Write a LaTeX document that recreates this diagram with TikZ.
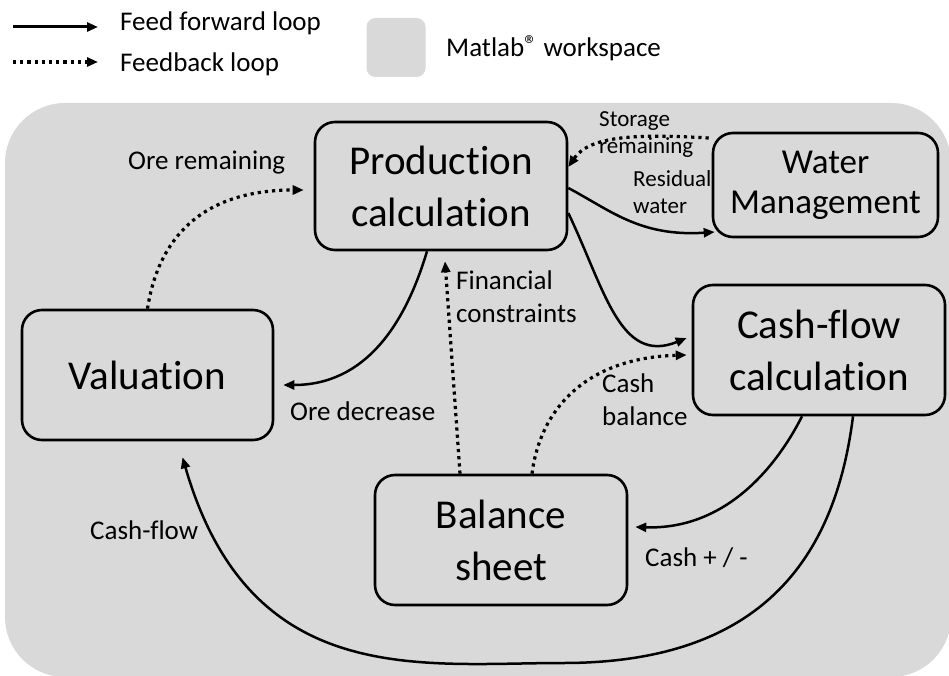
\documentclass[tikz,border=0pt]{standalone}
\usepackage{fontspec}
\setmainfont[Ligatures=NoCommon]{Carlito}
\usepackage{tikz}
\usetikzlibrary{arrows.meta}
\definecolor{wsgray}{HTML}{D9D9D9}

\begin{document}
\begin{tikzpicture}[x=1pt,y=-1pt, every node/.style={inner sep=0pt}, box/.style={draw,line width=2.6pt,rounded corners=20pt,fill=wsgray,align=center,minimum width=252pt,minimum height=130pt,font=\fontsize{41}{52}\selectfont}, lbl/.style={align=left,font=\fontsize{27}{33}\selectfont}, small/.style={align=left,font=\fontsize{23}{27}\selectfont}, arr/.style={-{Triangle[length=11pt,width=9pt]},line width=2.5pt}, fb/.style={arr,line width=3.2pt,dash pattern=on 3.2pt off 4pt}]
\useasboundingbox (0,0) rectangle (949,676);
\fill[wsgray,rounded corners=60pt] (5,103) rectangle (951,677);
% legend
\coordinate (ffa) at (13,27); \coordinate (ffb) at (98,27); \coordinate (fba) at (13,62); \coordinate (fbb) at (98,62);
\draw[arr,line width=3pt] (ffa)--(ffb); \draw[fb] (fba)--(fbb);
\node[lbl,anchor=base west] (fftext) at (120,31) {Feed forward loop}; \node[lbl,anchor=base west] (fbtext) at (120,72) {Feedback loop};
\node[fill=wsgray,rounded corners=9pt,minimum size=59pt] (ws) at (396,47.5) {}; \node[lbl,anchor=base west] (wstext) at (446,57) {Matlab\raisebox{3pt}{\fontsize{26}{26}\selectfont\textregistered} workspace};
% blocks
\node[box,minimum height=128pt] (prod) at (441,186) {Production\\calculation}; \node[box,minimum width=225pt,minimum height=104pt,font=\fontsize{35}{40}\selectfont] (water) at (825.5,185) {Water\\Management};
\node[box,minimum width=251pt] (val) at (147.5,375) {Valuation}; \node[box] (cash) at (819,350) {Cash-flow\\calculation}; \node[box] (bal) at (501,540) {Balance\\sheet};
% labels
\node[lbl,anchor=base west] (oreRem) at (128,170) {Ore remaining}; \node[lbl,anchor=base west] (oreDec) at (290,420) {Ore decrease};
\node[lbl,anchor=west] (finCon) at (456,297) {Financial\\constraints}; \node[lbl,anchor=west] (cashBal) at (602,400) {Cash\\balance};
\node[small,anchor=west] (stoRem) at (599,135) {Storage\\remaining}; \node[small,anchor=west] (resWat) at (633,192) {Residual\\water};
\node[lbl,anchor=base west] (cfText) at (90,539) {Cash-flow}; \node[lbl,anchor=base west] (cashPM) at (645,566) {Cash + / -};
% loops
\draw[fb] (val.north) .. controls (158,240) and (200,190) .. ([xshift=-10pt,yshift=-4pt]prod.west);
\draw[arr] ([xshift=-14pt]prod.south) .. controls (405,325) and (365,385) .. ([xshift=9pt,yshift=-10pt]val.east);
\draw[fb] ([xshift=-41pt]bal.north) -- ([xshift=4pt,yshift=-10pt]prod.south);
\draw[fb] ([xshift=31pt]bal.north) .. controls (540,410) and (585,358) .. ([xshift=-5pt,yshift=-5pt]cash.west);
\draw[arr] ([yshift=-27pt]prod.east) .. controls (605,290) and (620,365) .. ([xshift=-5pt,yshift=12pt]cash.west);
\draw[fb] ([xshift=-3pt,yshift=47pt]water.west) .. controls (640,134) and (590,135) .. ([yshift=19pt]prod.east);
\draw[arr] ([yshift=-2pt]prod.east) .. controls (610,210) and (640,237) .. ([xshift=3pt,yshift=-47pt]water.west);
\draw[arr] ([xshift=-17pt]cash.south) .. controls (780,460) and (730,530) .. ([xshift=7pt,yshift=13pt]bal.east);
\draw[arr] ([xshift=34pt]cash.south) .. controls (835,560) and (760,663) .. (563,663) .. controls (420,663) and (250,690) .. ([xshift=35pt,yshift=-16pt]val.south);
\end{tikzpicture}
\end{document}
